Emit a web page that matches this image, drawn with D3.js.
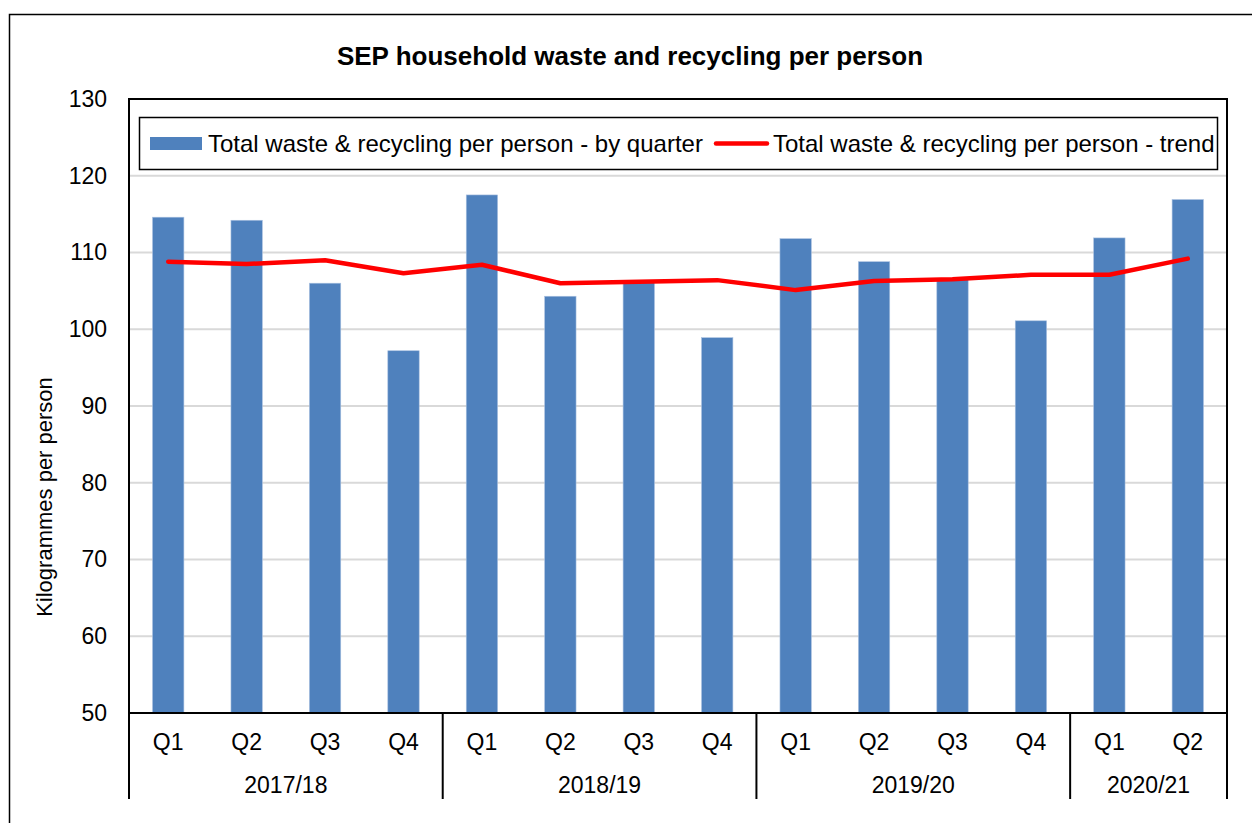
<!DOCTYPE html>
<html>
<head>
<meta charset="utf-8">
<script src="https://cdn.jsdelivr.net/npm/d3@7"></script>
<style>
  body { margin: 0; background: #fff; }
  text { font-family: "Liberation Sans", Arial, sans-serif; fill: #000; }
</style>
</head>
<body>
<script>
// data
var years = ["2017/18", "2018/19", "2019/20", "2020/21"];
var quarters = ["Q1", "Q2", "Q3", "Q4", "Q1", "Q2", "Q3", "Q4", "Q1", "Q2", "Q3", "Q4", "Q1", "Q2"];
var quarterYear = [0, 0, 0, 0, 1, 1, 1, 1, 2, 2, 2, 2, 3, 3];
var byQuarter = [114.6, 114.2, 106.0, 97.2, 117.5, 104.3, 106.2, 98.9, 111.8, 108.8, 106.5, 101.1, 111.9, 116.9];
var trend = [108.8, 108.5, 109.0, 107.3, 108.4, 106.0, 106.2, 106.4, 105.1, 106.3, 106.5, 107.1, 107.1, 109.2];
var yTicks = [50, 60, 70, 80, 90, 100, 110, 120, 130];

var W = 1252, H = 823;
var margin = {top: 99, right: 25, bottom: 110, left: 129},
    width = W - margin.left - margin.right,
    height = H - margin.top - margin.bottom;

var svg = d3.select("body").append("svg")
    .attr("width", W)
    .attr("height", H);

// outer chart frame
svg.append("rect")
    .attr("x", 9.5).attr("y", 14.5)
    .attr("width", W + 20).attr("height", H + 20)
    .attr("fill", "none").attr("stroke", "#000").attr("stroke-width", 1.5);

svg.append("text")
    .attr("x", 630).attr("y", 65)
    .attr("text-anchor", "middle")
    .style("font-size", "26px").style("font-weight", "bold")
    .text("SEP household waste and recycling per person");

var g = svg.append("g")
    .attr("transform", "translate(" + margin.left + "," + margin.top + ")");

var idx = d3.range(byQuarter.length);
var x = d3.scaleBand().domain(idx).range([0, width]).paddingInner(0.6).paddingOuter(0.3);
var xc = function(i) { return x(i) + x.bandwidth() / 2; };
var step = width / idx.length;
var y = d3.scaleLinear().domain([50, 130]).range([height, 0]);

// gridlines
g.append("g").selectAll("line")
    .data(yTicks.slice(1, -1))
    .enter().append("line")
    .attr("x1", 0).attr("x2", width)
    .attr("y1", function(d) { return y(d); })
    .attr("y2", function(d) { return y(d); })
    .attr("stroke", "#d9d9d9").attr("stroke-width", 2);

// y axis labels
var yAxis = d3.axisLeft(y).tickValues(yTicks).tickSize(0).tickPadding(22);
g.append("g").call(yAxis)
    .call(function(s) { s.select(".domain").remove(); })
    .selectAll("text")
    .style("font-size", "23px")
    .attr("fill", "#000");

// bars
g.selectAll(".bar")
    .data(byQuarter)
    .enter().append("rect")
    .attr("class", "bar")
    .attr("x", function(d, i) { return x(i); })
    .attr("width", x.bandwidth())
    .attr("y", function(d) { return y(d); })
    .attr("height", function(d) { return height - y(d); })
    .attr("fill", "#4f81bd")
    .attr("stroke", "#a9c0e0").attr("stroke-width", 0.6);

// trend line
var line = d3.line()
    .x(function(d, i) { return xc(i); })
    .y(function(d) { return y(d); });

g.append("path")
    .datum(trend)
    .attr("d", line)
    .attr("fill", "none")
    .attr("stroke", "#ff0000")
    .attr("stroke-width", 4.5)
    .attr("stroke-linecap", "round")
    .attr("stroke-linejoin", "round");

// plot border
g.append("rect")
    .attr("width", width).attr("height", height)
    .attr("fill", "none").attr("stroke", "#000").attr("stroke-width", 2);

// category axis: quarters
var xAxis = d3.axisBottom(x).tickSize(0).tickPadding(21)
    .tickFormat(function(i) { return quarters[i]; });
g.append("g")
    .attr("transform", "translate(0," + height + ")")
    .call(xAxis)
    .call(function(s) { s.select(".domain").remove(); })
    .selectAll("text")
    .style("font-size", "23px")
    .attr("fill", "#000");

// year groups
var groups = years.map(function(yr, k) {
    var members = idx.filter(function(i) { return quarterYear[i] === k; });
    return {name: yr, start: members[0], end: members[members.length - 1]};
});

g.selectAll(".divider")
    .data([0].concat(groups.map(function(d) { return d.end + 1; })))
    .enter().append("line")
    .attr("x1", function(d) { return d * step; })
    .attr("x2", function(d) { return d * step; })
    .attr("y1", height).attr("y2", height + 86)
    .attr("stroke", "#000").attr("stroke-width", 2);

g.selectAll(".year")
    .data(groups)
    .enter().append("text")
    .attr("x", function(d) { return (d.start + d.end + 1) / 2 * step; })
    .attr("y", height + 80)
    .attr("text-anchor", "middle")
    .style("font-size", "23px")
    .text(function(d) { return d.name; });

// y axis title
svg.append("text")
    .attr("transform", "translate(52,497) rotate(-90)")
    .attr("text-anchor", "middle")
    .style("font-size", "22px")
    .text("Kilogrammes per person");

// legend
var legend = svg.append("g");
legend.append("rect")
    .attr("x", 139.5).attr("y", 117.5)
    .attr("width", 1078).attr("height", 52)
    .attr("fill", "#fff").attr("stroke", "#000").attr("stroke-width", 1.5);
legend.append("rect")
    .attr("x", 150).attr("y", 137).attr("width", 52).attr("height", 13)
    .attr("fill", "#4f81bd");
legend.append("text")
    .attr("x", 208).attr("y", 152)
    .style("font-size", "24px")
    .text("Total waste & recycling per person - by quarter");
legend.append("line")
    .attr("x1", 716).attr("x2", 767).attr("y1", 143.5).attr("y2", 143.5)
    .attr("stroke", "#ff0000").attr("stroke-width", 4.5).attr("stroke-linecap", "round");
legend.append("text")
    .attr("x", 773).attr("y", 152)
    .style("font-size", "24px")
    .text("Total waste & recycling per person - trend");
</script>
</body>
</html>
